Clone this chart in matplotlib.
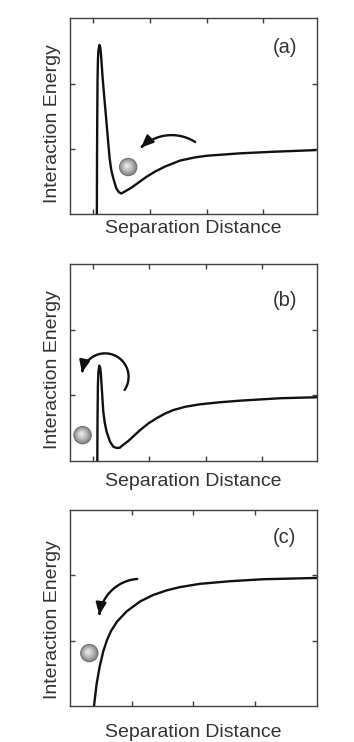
import numpy as np
import matplotlib
matplotlib.use("Agg")
import matplotlib.pyplot as plt
from matplotlib.patches import FancyArrowPatch
from matplotlib.path import Path
from matplotlib.transforms import ScaledTranslation, offset_copy
from matplotlib.colors import to_rgb

plt.rcParams['font.family'] = ['Liberation Sans', 'DejaVu Sans']

# (a) secondary minimum: particle trapped in the shallow well
sep_a = [1.072, 1.075, 1.079, 1.084, 1.091, 1.100, 1.118, 1.133, 1.146, 1.158,
         1.174, 1.204, 1.235, 1.265, 1.296, 1.325, 1.360, 1.412, 1.456, 1.500,
         1.570, 1.675, 1.798, 1.939, 2.096, 2.272, 2.535, 2.798, 3.004, 3.588,
         4.167, 4.933]
energy_a = [-0.10, 0.827, 1.470, 2.052, 2.358, 2.511, 2.592, 2.550, 2.435, 2.282,
            2.083, 1.776, 1.470, 1.164, 0.858, 0.674, 0.551, 0.398, 0.337, 0.314,
            0.348, 0.401, 0.478, 0.567, 0.651, 0.728, 0.819, 0.868, 0.893, 0.930,
            0.954, 0.980]

# (b) low barrier: particle crosses into the primary minimum
sep_b = [1.083, 1.087, 1.094, 1.103, 1.119, 1.135, 1.147, 1.159, 1.189, 1.216,
         1.248, 1.308, 1.366, 1.425, 1.481, 1.526, 1.632, 1.738, 1.844, 1.986,
         2.140, 2.287, 2.434, 2.641, 2.906, 3.260, 3.614, 4.322, 4.972]
energy_b = [-0.10, 0.620, 1.156, 1.354, 1.450, 1.415, 1.324, 1.156, 0.748, 0.576,
            0.443, 0.290, 0.214, 0.194, 0.198, 0.232, 0.301, 0.385, 0.469, 0.568,
            0.652, 0.721, 0.774, 0.823, 0.861, 0.892, 0.916, 0.953, 0.968]

# (c) no barrier: purely attractive profile
sep_c = [0.389, 0.430, 0.480, 0.540, 0.600, 0.660, 0.760, 0.920, 1.135, 1.350,
         1.567, 1.783, 2.107, 2.593, 3.128, 4.000]
energy_c = [0.00, 0.33, 0.60, 0.84, 1.01, 1.14, 1.29, 1.45, 1.60, 1.70,
            1.77, 1.82, 1.87, 1.91, 1.94, 1.96]

panel_tags = ["(a)", "(b)", "(c)"]
x_ticks_ab = [1, 2, 3, 4]
x_ticks_c = [1, 2, 3]
y_ticks = [1, 2]

INK = "#111111"
TEXT = "#333333"
SPINE = "#404040"

fig = plt.figure(figsize=(3.54, 7.42), dpi=100)
fig.patch.set_facecolor("white")

axes_rects = [
    [0.1977, 0.7116, 0.6977, 0.2637],
    [0.1977, 0.3791, 0.6977, 0.2651],
    [0.1977, 0.0485, 0.6977, 0.2642],
]


def style_axes(ax, xlim, xticks, xpad, ylab_y):
    ax.set_xlim(*xlim)
    ax.set_ylim(0, 3)
    ax.set_xticks(xticks)
    ax.set_yticks(y_ticks)
    ax.tick_params(direction="in", length=3.8, width=1.0, color=SPINE,
                   top=True, right=True, labelbottom=False, labelleft=False)
    for sp in ax.spines.values():
        sp.set_linewidth(1.0)
        sp.set_color(SPINE)
    ax.set_xlabel("Separation Distance", fontsize=14, color=TEXT, labelpad=xpad)
    ax.set_ylabel("Interaction Energy", fontsize=14, color=TEXT)
    ax.yaxis.set_label_coords(-0.036, ylab_y)


def draw_ball(ax, x, y, radius_px=9.2):
    outer = np.array(to_rgb("#6a6a6a"))
    inner = np.array(to_rgb("#ececec"))
    n = 18
    for i in range(n):
        t = i / (n - 1)
        r = radius_px * (1 - 0.93 * t)
        w = t ** 0.7
        col = outer * (1 - w) + inner * w
        tr = offset_copy(ax.transData, fig=fig, x=-1.4 * t, y=1.4 * t, units="dots")
        d_pt = 2 * r * 72 / fig.dpi
        ax.scatter([x], [y], s=d_pt ** 2, color=col, edgecolors="none",
                   transform=tr, zorder=5, clip_on=False)


def draw_arc_arrow(ax, cx, cy, r_px, a0, a1):
    th = np.radians(np.linspace(a0, a1, 60))
    r_in = r_px / fig.dpi
    verts = np.column_stack([r_in * np.cos(th), r_in * np.sin(th)])
    tr = fig.dpi_scale_trans + ScaledTranslation(cx, cy, ax.transData)
    arr = FancyArrowPatch(path=Path(verts),
                          arrowstyle="-|>,head_length=0.6,head_width=0.26",
                          mutation_scale=12, lw=1.7, color=INK,
                          transform=tr, zorder=6)
    ax.add_patch(arr)


curves = [(sep_a, energy_a), (sep_b, energy_b), (sep_c, energy_c)]
xlims = [(0.6, 4.94), (0.6, 4.97), (0.0, 4.0)]
xtick_sets = [x_ticks_ab, x_ticks_ab, x_ticks_c]
xlabel_pads = [4, 8.6, 12.6]
ylabel_ys = [0.464, 0.464, 0.44]
tag_pos = [(0.87, 0.852), (0.87, 0.813), (0.87, 0.86)]
balls = [(1.623, 0.72), (0.823, 0.39), (0.313, 0.81)]
arcs = [(2.386, 0.539, 43.7, 57.4, 134.3),
        (1.221, 1.279, 23.5, -33.9, 169.7),
        (1.139, 1.314, 41.3, 94.2, 172.8)]

for k in range(3):
    ax = fig.add_axes(axes_rects[k])
    ax.set_facecolor("white")
    style_axes(ax, xlims[k], xtick_sets[k], xlabel_pads[k], ylabel_ys[k])
    xs, ys = curves[k]
    ax.plot(xs, ys, color=INK, lw=1.7, solid_joinstyle="round",
            solid_capstyle="butt", zorder=4)
    ax.text(*tag_pos[k], panel_tags[k], transform=ax.transAxes, fontsize=14.5,
            color=TEXT, ha="center", va="center")
    draw_ball(ax, *balls[k])
    draw_arc_arrow(ax, *arcs[k])

fig.savefig("out.png", dpi=100, facecolor="white")
